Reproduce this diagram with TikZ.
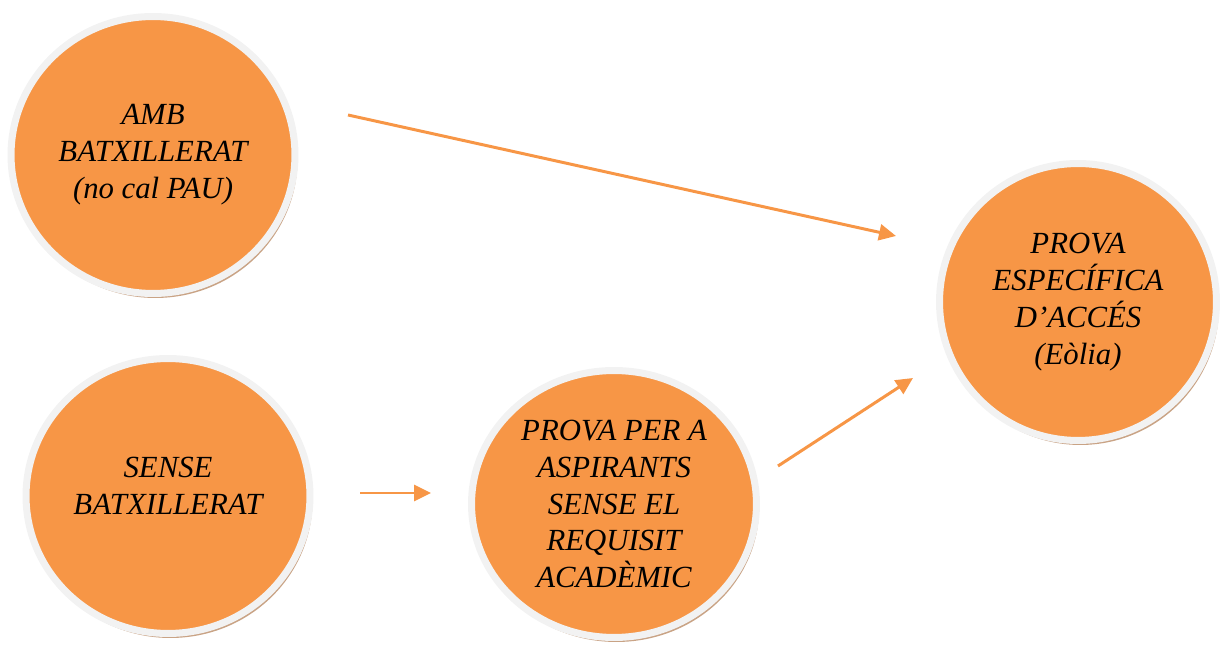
\documentclass[tikz,border=0pt]{standalone}
\usepackage{fontspec}
\setmainfont{Liberation Serif}
\usetikzlibrary{shapes.geometric, shadows, arrows.meta}
\definecolor{myorange}{HTML}{F79646}
\definecolor{myrim}{HTML}{F2F2F2}
\definecolor{myshadow}{HTML}{C9A385}

\begin{document}
\begin{tikzpicture}[x=0.02cm, y=-0.02cm,
    stage/.style={ellipse, fill=myorange, draw=myrim, line width=4pt, inner sep=0pt,
      align=center, font=\fontsize{17.5}{21}\selectfont\itshape,
      drop shadow={shadow xshift=0.05cm, shadow yshift=-0.09cm, fill=myshadow, opacity=1}},
    link/.style={draw=myorange, line width=1.7pt, -{Triangle[length=0.34cm, width=0.32cm]}}]
  \useasboundingbox (0, 0) rectangle (1220, 648);
  \node[stage, minimum width=5.68cm, minimum height=5.54cm] (amb) at (153, 155) {AMB\\BATXILLERAT\\(no cal PAU)};
  \node[stage, minimum width=5.68cm, minimum height=5.50cm] (sense) at (168, 496) {SENSE\\BATXILLERAT\\[-9pt]};
  \node[stage, minimum width=5.70cm, minimum height=5.34cm] (aspirants) at (614, 504) {PROVA PER A\\ASPIRANTS\\SENSE EL\\REQUISIT\\ACADÈMIC};
  \node[stage, minimum width=5.54cm, minimum height=5.54cm] (especifica) at (1078, 302) {PROVA\\ESPECÍFICA\\D’ACCÉS\\(Eòlia)};
  \coordinate (a1) at (348, 115);
  \coordinate (a2) at (896, 236);
  \coordinate (b1) at (360, 493);
  \coordinate (b2) at (431, 493);
  \coordinate (c1) at (778, 466);
  \coordinate (c2) at (913, 378);
  \draw[link] (a1) -- (a2);
  \draw[link] (b1) -- (b2);
  \draw[link] (c1) -- (c2);
\end{tikzpicture}
\end{document}
